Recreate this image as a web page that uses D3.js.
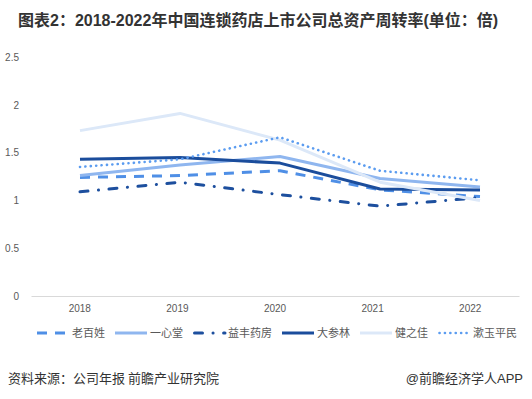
<!DOCTYPE html>
<html>
<head>
<meta charset="utf-8">
<script src="https://cdn.jsdelivr.net/npm/d3@7"></script>
<style>
body{margin:0;background:#fff;}
svg{display:block;font-family:"Liberation Sans","Noto Sans CJK SC",sans-serif;}
</style>
</head>
<body>
<script>
var years=['2018','2019','2020','2021','2022'];
var yTicks=[0,0.5,1,1.5,2,2.5];
var seriesNames=['老百姓','一心堂','益丰药房','大参林','健之佳','漱玉平民'];
var laobaixing=[1.24,1.26,1.31,1.11,1.04];
var yixintang=[1.26,1.37,1.46,1.23,1.14];
var yifeng=[1.09,1.19,1.06,0.94,1.03];
var dashenlin=[1.43,1.45,1.39,1.12,1.11];
var jianzhijia=[1.73,1.91,1.63,1.19,1.00];
var shuyu=[1.35,1.43,1.66,1.31,1.21];
var seriesValues=[laobaixing,yixintang,yifeng,dashenlin,jianzhijia,shuyu];

var styles=[
  {color:'#4f8fe6',width:3,dash:'10,8',cap:'butt'},
  {color:'#8fb6ef',width:3,dash:null,cap:'butt'},
  {color:'#1d4f9e',width:3,dash:'8,10.5,0.1,10.5',cap:'round'},
  {color:'#1b4d9c',width:3,dash:null,cap:'butt'},
  {color:'#dce8f8',width:3,dash:null,cap:'butt'},
  {color:'#5b9cf0',width:2.6,dash:'0.1,5.3',cap:'round'}
];

var width=532,height=399;
var svg=d3.select('body').append('svg')
.attr('width',width)
.attr('height',height);

svg.append('text')
.attr('x',18)
.attr('y',26)
.style('font-size','16px')
.style('font-weight','bold')
.style('fill','#333')
.text('图表2：2018-2022年中国连锁药店上市公司总资产周转率(单位：倍)');

var x=d3.scalePoint().domain(years).range([30,530]).padding(0.5);
var xAxisScale=d3.scaleBand().domain(years).range([31,519]);
var y=d3.scaleLinear().domain([0,2.5]).range([296,57]);

// y axis labels
var yAxis=svg.append('g')
.attr('transform','translate(22,0)')
.call(d3.axisLeft(y).tickValues(yTicks).tickSize(0).tickFormat(d3.format('')));
yAxis.select('.domain').remove();
yAxis.selectAll('text')
.style('font-size','10px')
.style('fill','#595959')
.style('font-family','"Liberation Sans",sans-serif');

// baseline + x labels
var xAxis=svg.append('g')
.attr('transform','translate(0,296)')
.call(d3.axisBottom(xAxisScale).tickSize(0).tickPadding(9).tickSizeOuter(0));
xAxis.select('.domain').attr('stroke','#d9d9d9').attr('stroke-width',1);
xAxis.selectAll('text')
.style('font-size','10px')
.style('fill','#595959')
.style('font-family','"Liberation Sans",sans-serif');

var line=d3.line()
.x(function(d,i){return x(years[i]);})
.y(function(d){return y(d);});

svg.append('g').selectAll('path')
.data(seriesValues)
.enter()
.append('path')
.attr('d',line)
.attr('fill','none')
.attr('stroke',function(d,i){return styles[i].color;})
.attr('stroke-width',function(d,i){return styles[i].width;})
.attr('stroke-dasharray',function(d,i){return styles[i].dash;})
.attr('stroke-linecap',function(d,i){return styles[i].cap;})
.attr('stroke-linejoin','round');

// legend
var legend=svg.append('g').attr('transform','translate(0,333)');
var lx=37;
seriesNames.forEach(function(name,i){
  var item=legend.append('g').attr('transform','translate('+lx+',0)');
  var st=styles[i];
  item.append('line')
  .attr('x1',st.cap=='round'?1.5:0)
  .attr('x2',32)
  .attr('y1',0).attr('y2',0)
  .attr('stroke',st.color)
  .attr('stroke-width',st.width)
  .attr('stroke-dasharray',st.dash)
  .attr('stroke-linecap',st.cap);
  var t=item.append('text')
  .attr('x',35)
  .attr('y',4)
  .style('font-size','11px')
  .style('fill','#595959')
  .style('font-family','"Noto Sans CJK SC",sans-serif')
  .text(name);
  lx+=35+t.node().getComputedTextLength()+10;
});

svg.append('text')
.attr('x',8)
.attr('y',383)
.style('font-size','13px')
.style('fill','#333')
.style('font-family','"Noto Sans CJK SC",sans-serif')
.text('资料来源：公司年报 前瞻产业研究院');

svg.append('text')
.attr('x',523)
.attr('y',383)
.attr('text-anchor','end')
.style('font-size','13px')
.style('fill','#333')
.style('font-family','"Liberation Sans","Noto Sans CJK SC",sans-serif')
.text('@前瞻经济学人APP');
</script>
</body>
</html>
